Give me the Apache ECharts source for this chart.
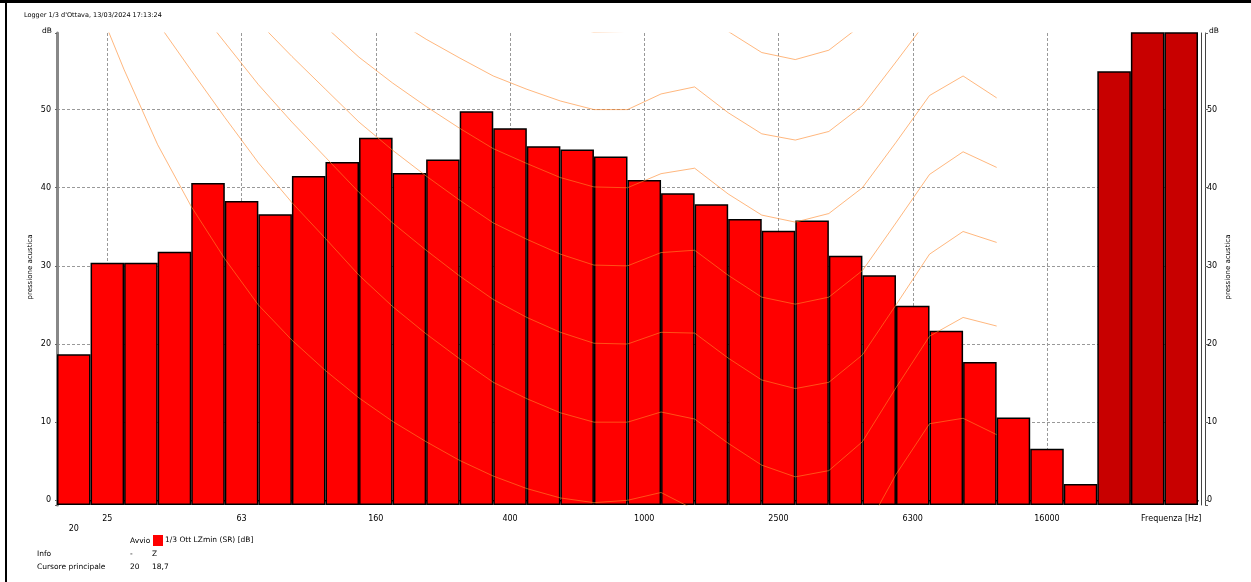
<!DOCTYPE html>
<html>
<head>
<meta charset="utf-8">
<title>Logger 1/3 d'Ottava</title>
<script src="https://cdn.jsdelivr.net/npm/echarts@6/dist/echarts.min.js"></script>
<style>
html, body { margin: 0; padding: 0; background: #fff; }
#chart { width: 1251px; height: 582px; }
</style>
</head>
<body>
<div id="chart"></div>
<script>
// bande 1/3 d'ottava + totali
var bande = ['20', '25', '31.5', '40', '50', '63', '80', '100', '125', '160', '200', '250', '315', '400', '500', '630',
    '800', '1000', '1250', '1600', '2000', '2500', '3150', '4000', '5000', '6300', '8000', '10000', '12500', '16000', '20000',
    'A', 'C', 'Z'];
// LZmin [dB]
var livelli = [18.7, 30.4, 30.4, 31.8, 40.6, 38.3, 36.6, 41.5, 43.3, 46.4, 41.9, 43.6, 49.8, 47.6, 45.3, 44.9,
    44.0, 41.0, 39.3, 37.9, 36.0, 34.5, 35.8, 31.3, 28.8, 24.9, 21.7, 17.7, 10.6, 6.6, 2.1,
    54.9, 60.5, 61.0];
// curve isofoniche (20 Hz .. 12.5 kHz)
var phon0 = [76.5, 65.6, 55.1, 45.5, 37.6, 30.9, 25.0, 20.5, 16.6, 13.1, 10.1, 7.5, 5.1, 3.1, 1.5, 0.3, -0.3, 0.0, 1.0, -1.2, -4.1, -7.1, -9.0, -8.5, -4.5, 3.3, 9.8, 10.5, 8.4];
var phon10 = [83.8, 75.8, 68.2, 61.1, 55.0, 49.0, 43.2, 38.1, 33.5, 28.8, 24.8, 21.3, 18.1, 15.1, 13.0, 11.2, 10.0, 10.0, 11.3, 10.4, 7.3, 4.5, 3.0, 3.8, 7.5, 14.4, 21.0, 23.4, 22.3];
var phon20 = [89.6, 82.7, 76.0, 69.6, 64.0, 58.6, 53.2, 48.4, 43.9, 39.4, 35.5, 32.0, 28.7, 25.7, 23.4, 21.5, 20.1, 20.0, 21.5, 21.4, 18.2, 15.4, 14.3, 15.1, 18.6, 25.0, 31.5, 34.4, 33.0];
var phon30 = [94.9, 88.5, 82.4, 76.5, 71.3, 66.2, 61.2, 56.8, 52.6, 48.4, 44.8, 41.5, 38.4, 35.5, 33.4, 31.5, 30.1, 30.0, 31.7, 32.0, 28.8, 26.0, 25.1, 26.0, 29.4, 35.5, 41.7, 44.6, 42.6];
var phon40 = [99.9, 93.9, 88.2, 82.6, 77.8, 73.1, 68.5, 64.4, 60.6, 56.7, 53.4, 50.4, 47.6, 45.0, 43.1, 41.3, 40.1, 40.0, 41.8, 42.5, 39.2, 36.5, 35.6, 36.7, 40.0, 45.8, 51.8, 54.3, 51.5];
var phon50 = [104.7, 99.1, 93.7, 88.5, 84.0, 79.6, 75.4, 71.6, 68.2, 64.7, 61.7, 59.0, 56.6, 54.3, 52.6, 51.1, 50.0, 50.0, 52.0, 52.9, 49.6, 46.9, 46.1, 47.2, 50.5, 56.1, 61.8, 63.8, 60.1];
var phon60 = [109.5, 104.2, 99.1, 94.2, 90.0, 85.9, 82.1, 78.7, 75.6, 72.5, 69.9, 67.5, 65.4, 63.5, 62.1, 60.8, 59.9, 60.0, 62.2, 63.2, 60.0, 57.3, 56.4, 57.6, 60.9, 66.4, 71.7, 73.2, 68.6];

var FONT = 'DejaVu Sans';
var nomeSerie = '1/3 Ott LZmin (SR) [dB]';

function mostraEtichetta(i) {
    return i === 0 || (i - 1) % 4 === 0;
}

function testo(x, y, t, size, extra) {
    var s = { text: t, fontSize: size || 7, fontFamily: FONT, fill: '#000', verticalAlign: 'middle', textVerticalAlign: 'middle' };
    if (extra) for (var k in extra) s[k] = extra[k];
    return { type: 'text', x: x, y: y, style: s, silent: true };
}

var chart = echarts.init(document.getElementById('chart'));

var isofone = [phon0, phon10, phon20, phon30, phon40, phon50, phon60];
var serieIso = isofone.map(function (curva) {
    return {
        type: 'line',
        xAxisIndex: 1,
        yAxisIndex: 0,
        data: curva.map(function (v, i) { return [i, v]; }),
        symbol: 'none',
        silent: true,
        clip: true,
        z: 4,
        lineStyle: { color: 'rgba(255,135,40,0.6)', width: 1 }
    };
});

var option = {
    animation: false,
    backgroundColor: '#fff',
    grid: { left: 57, right: 53, top: 33, bottom: 77 },
    legend: {
        data: [nomeSerie],
        left: 153, top: 535,
        padding: 0,
        itemWidth: 10, itemHeight: 11,
        icon: 'rect',
        itemStyle: { borderWidth: 0 },
        textStyle: { fontFamily: FONT, fontSize: 7.5, color: '#000', padding: [0, 0, 0, -3] }
    },
    xAxis: [
        {
            type: 'category',
            data: bande,
            boundaryGap: true,
            offset: 1,
            axisLine: { lineStyle: { color: '#888', width: 2 } },
            axisTick: { interval: function (i) { return (i - 1) % 4 === 0; }, alignWithLabel: true, length: 3, lineStyle: { color: '#666' } },
            axisLabel: {
                interval: function (i) { return mostraEtichetta(i); },
                margin: 8,
                fontFamily: FONT, fontSize: 8, color: '#000', lineHeight: 10,
                formatter: function (v, i) {
                    if (i === 0) return '\n' + v;
                    if (i === bande.length - 1) return '{f|Frequenza [Hz]}';
                    return v;
                },
                rich: { f: { fontFamily: FONT, fontSize: 8, color: '#000', padding: [0, 20, 0, 0] } }
            },
            splitLine: {
                show: true,
                alignWithLabel: true,
                interval: function (i) { return (i - 1) % 4 === 0; },
                lineStyle: { color: '#999', type: [3, 2], width: 1 }
            }
        },
        {
            type: 'value',
            min: 0, max: bande.length,
            position: 'top',
            axisLine: { show: true, lineStyle: { color: '#000', width: 1 } },
            axisTick: { show: false },
            axisLabel: { show: false },
            splitLine: { show: false }
        }
    ],
    yAxis: [
        {
            type: 'value',
            min: -0.6, max: 59.8,
            startValue: -0.6,
            splitNumber: 6,
            offset: 2,
            axisLine: { show: true, lineStyle: { color: '#888', width: 3 } },
            axisTick: { show: true, length: 2, lineStyle: { color: '#666' } },
            axisLabel: {
                margin: 4, fontFamily: FONT, fontSize: 8, color: '#000',
                formatter: function (v) { return Math.abs(v % 10) < 1e-6 ? String(v) : ''; }
            },
            splitLine: { show: true, showMinLine: false, showMaxLine: false, lineStyle: { color: '#999', type: [3, 2], width: 1 } }
        },
        {
            type: 'value',
            min: -0.6, max: 59.8,
            splitNumber: 6,
            position: 'right',
            offset: 7,
            axisLine: { show: true, lineStyle: { color: '#444', width: 1 } },
            axisTick: { show: true, length: 3, inside: false, lineStyle: { color: '#666' } },
            axisLabel: {
                margin: 2, fontFamily: FONT, fontSize: 8, color: '#000',
                formatter: function (v) { return Math.abs(v % 10) < 1e-6 ? String(v) : ''; }
            },
            splitLine: { show: false }
        },
        {
            type: 'value',
            min: -0.6, max: 59.8,
            position: 'right',
            offset: 3,
            axisLine: { show: true, lineStyle: { color: '#444', width: 1 } },
            axisTick: { show: false },
            axisLabel: { show: false },
            splitLine: { show: false }
        }
    ],
    series: [
        {
            name: nomeSerie,
            type: 'bar',
            xAxisIndex: 0,
            yAxisIndex: 0,
            barCategoryGap: '0%',
            clip: true,
            z: 3,
            itemStyle: { color: '#ff0000', borderColor: '#000', borderWidth: 1.5 },
            data: livelli.map(function (v, i) {
                return i >= 31 ? { value: v, itemStyle: { color: '#c80000' } } : v;
            })
        }
    ].concat(serieIso),
    graphic: [
        { type: 'rect', shape: { x: 0, y: 0, width: 1251, height: 3 }, style: { fill: '#000' }, silent: true },
        { type: 'rect', shape: { x: 5, y: 0, width: 2, height: 582 }, style: { fill: '#000' }, silent: true },
        testo(24, 15, "Logger 1/3 d'Ottava, 13/03/2024 17:13:24", 6.5),
        testo(52, 31, 'dB', 7.5, { align: 'right', textAlign: 'right' }),
        testo(1209, 31, 'dB', 7.5),
        {
            type: 'text', x: 30, y: 267, rotation: Math.PI / 2, silent: true,
            style: { text: 'pressione acustica', fontSize: 7, fontFamily: FONT, fill: '#000', align: 'center', textAlign: 'center', verticalAlign: 'middle', textVerticalAlign: 'middle' }
        },
        {
            type: 'text', x: 1228, y: 267, rotation: Math.PI / 2, silent: true,
            style: { text: 'pressione acustica', fontSize: 7, fontFamily: FONT, fill: '#000', align: 'center', textAlign: 'center', verticalAlign: 'middle', textVerticalAlign: 'middle' }
        },
        testo(130, 541, 'Avvio', 7.5),
        testo(37, 554, 'Info', 7.5),
        testo(130, 554, '-', 7.5),
        testo(152, 554, 'Z', 7.5),
        testo(37, 567, 'Cursore principale', 7.5),
        testo(130, 567, bande[0], 7.5),
        testo(152, 567, String(livelli[0]).replace('.', ','), 7.5)
    ]
};

chart.setOption(option);
</script>
</body>
</html>
